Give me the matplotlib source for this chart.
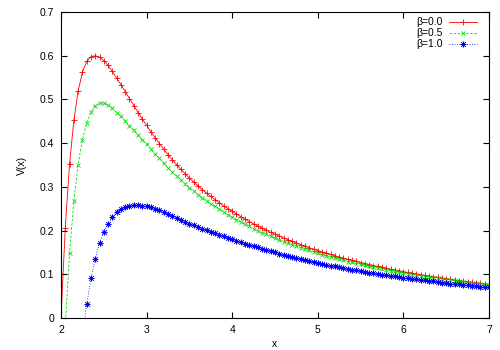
import numpy as np
import matplotlib
matplotlib.use("Agg")
import matplotlib.pyplot as plt

plt.rcParams['font.family'] = ['Liberation Sans', 'DejaVu Sans']

nan = float('nan')
# x grid: 2.00 .. 7.00 in steps of 0.05
x = np.round(np.arange(2.0, 7.0001, 0.05), 2)

v_beta00 = [
    0.000, 0.207, 0.352, 0.452, 0.519, 0.562, 0.587, 0.598, 0.600, 0.597,
    0.589, 0.578, 0.564, 0.549, 0.534, 0.518, 0.502, 0.486, 0.470, 0.455,
    0.441, 0.426, 0.412, 0.399, 0.386, 0.374, 0.362, 0.351, 0.340, 0.330,
    0.320, 0.3109, 0.3022, 0.2938, 0.2858, 0.2780, 0.2706, 0.2635, 0.2567, 0.2501,
    0.2438, 0.2376, 0.2318, 0.2261, 0.2206, 0.2154, 0.2103, 0.2054, 0.2006, 0.1960,
    0.1916, 0.1873, 0.1832, 0.1792, 0.1753, 0.1715, 0.1679, 0.1644, 0.1609, 0.1576,
    0.1544, 0.1513, 0.1482, 0.1453, 0.1425, 0.1397, 0.1370, 0.1344, 0.1318, 0.1293,
    0.1269, 0.1246, 0.1223, 0.1201, 0.1179, 0.1158, 0.1138, 0.1118, 0.1099, 0.1080,
    0.1061, 0.1043, 0.1026, 0.1008, 0.0992, 0.0975, 0.0959, 0.0944, 0.0929, 0.0914,
    0.0899, 0.0885, 0.0871, 0.0858, 0.0845, 0.0832, 0.0819, 0.0807, 0.0795, 0.0783,
    0.0771,
]

v_beta05 = [
    nan, -0.017, 0.149, 0.267, 0.351, 0.408, 0.446, 0.471, 0.486, 0.4915,
    0.4915, 0.487, 0.480, 0.470, 0.461, 0.451, 0.440, 0.429, 0.418, 0.408,
    0.398, 0.386, 0.375, 0.365, 0.354, 0.344, 0.334, 0.325, 0.3155, 0.307,
    0.2985, 0.2905, 0.2825, 0.2755, 0.2685, 0.2613, 0.2551, 0.2489, 0.2426, 0.2362,
    0.2308, 0.2253, 0.2198, 0.2143, 0.2098, 0.2043, 0.1997, 0.1951, 0.1915, 0.1869,
    0.1832, 0.1785, 0.1748, 0.1711, 0.1674, 0.1647, 0.1610, 0.1572, 0.1545, 0.1517,
    0.1479, 0.1451, 0.1423, 0.1395, 0.1372, 0.1349, 0.1321, 0.1292, 0.1274, 0.1245,
    0.1227, 0.1208, 0.1179, 0.1161, 0.1142, 0.1123, 0.1104, 0.1085, 0.1066, 0.1047,
    0.1028, 0.1009, 0.0995, 0.0981, 0.0962, 0.0948, 0.0933, 0.0919, 0.0905, 0.0891,
    0.0876, 0.0862, 0.0848, 0.0838, 0.0824, 0.0809, 0.0800, 0.0787, 0.0776, 0.0764,
    0.0753,
]

v_beta10 = [
    nan, nan, nan, nan, nan, -0.036, 0.031, 0.091, 0.136, 0.172,
    0.197, 0.216, 0.231, 0.242, 0.249, 0.254, 0.257, 0.258, 0.2577, 0.257,
    0.256, 0.253, 0.250, 0.2462, 0.2418, 0.2378, 0.2331, 0.2290, 0.2245, 0.2205,
    0.2161, 0.2122, 0.2085, 0.2047, 0.2010, 0.1973, 0.1937, 0.1902, 0.1868, 0.1834,
    0.1801, 0.1767, 0.1736, 0.1704, 0.1673, 0.1644, 0.1614, 0.1585, 0.1556, 0.1529,
    0.1502, 0.1475, 0.1450, 0.1425, 0.1400, 0.1375, 0.1352, 0.1329, 0.1306, 0.1284,
    0.1262, 0.1241, 0.1220, 0.1200, 0.1181, 0.1161, 0.1142, 0.1124, 0.1105, 0.1088,
    0.1072, 0.1056, 0.1040, 0.1025, 0.1009, 0.0995, 0.0981, 0.0967, 0.0954, 0.0940,
    0.0926, 0.0912, 0.0899, 0.0885, 0.0873, 0.0860, 0.0848, 0.0836, 0.0824, 0.0812,
    0.0800, 0.0789, 0.0778, 0.0768, 0.0758, 0.0748, 0.0738, 0.0729, 0.0719, 0.0710,
    0.0700,
]

labels = ["β=0.0", "β=0.5", "β=1.0"]
colors = ["#ff0000", "#00e000", "#0000ff"]
xticks = [2, 3, 4, 5, 6, 7]
yticks = [0, 0.1, 0.2, 0.3, 0.4, 0.5, 0.6, 0.7]
ytick_labels = ["0", "0.1", "0.2", "0.3", "0.4", "0.5", "0.6", "0.7"]

fig = plt.figure(figsize=(5.0, 3.5), dpi=100)
ax = fig.add_axes([0.122, 0.0914, 0.856, 0.8743])

styles = [
    dict(ls='-', marker='+', ms=3.8, mew=0.6),
    dict(ls=(0, (3, 2)), marker='x', ms=3.3, mew=0.6),
    dict(ls=(0, (1, 2)), marker=(8, 2, 0), ms=4.2, mew=0.5),
]
for vals, lab, col, st in zip([v_beta00, v_beta05, v_beta10], labels, colors, styles):
    ax.plot(x, vals, color=col, lw=0.6, ls=st['ls'], marker=st['marker'],
            markersize=st['ms'], markeredgewidth=st['mew'], label=lab)

ax.set_xlim(2, 7)
ax.set_ylim(0, 0.7)
ax.set_xticks(xticks)
ax.set_xticklabels([str(t) for t in xticks])
ax.set_yticks(yticks)
ax.set_yticklabels(ytick_labels)
ax.tick_params(direction='in', length=4, width=0.8, top=True, right=True,
               labelsize=7.5, pad=5)
for s in ax.spines.values():
    s.set_linewidth(0.8)

ax.set_xlabel("x", fontsize=7.5, labelpad=3)
ax.set_ylabel("V(x)", fontsize=7.5, labelpad=9)

leg = ax.legend(loc='upper right', bbox_to_anchor=(0.984, 1.0), frameon=False,
                markerfirst=False, fontsize=7.5, handlelength=2.7,
                handletextpad=0.6, labelspacing=0.1, borderaxespad=0.3,
                borderpad=0.2)

fig.savefig("out.png", dpi=100)
